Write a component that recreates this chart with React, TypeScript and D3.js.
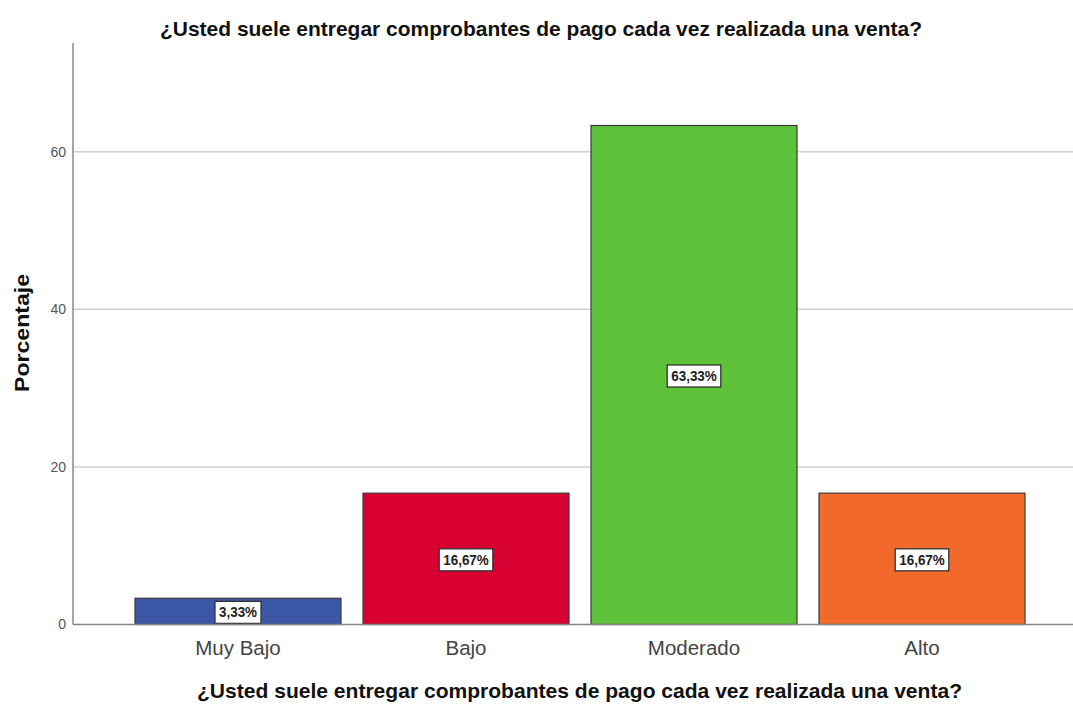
import React from "react";
import * as d3 from "d3";

const categories = ["Muy Bajo", "Bajo", "Moderado", "Alto"];
const values = [3.33, 16.67, 63.33, 16.67];
const valueLabels = ["3,33%", "16,67%", "63,33%", "16,67%"];
const colors = ["#3D57A7", "#D70031", "#5DC13A", "#F26A2B"];
const yTicks = [0, 20, 40, 60];
const title = "¿Usted suele entregar comprobantes de pago cada vez realizada una venta?";
const yTitle = "Porcentaje";

const W = 1073;
const H = 706;
const sans = "'Liberation Sans', Arial, sans-serif";

export default function App() {
  const axisX = 73;
  const y = d3.scaleLinear().domain([0, 73.8]).range([624.5, 43]);
  const x = d3
    .scaleBand<string>()
    .domain(categories)
    .range([124, 1036])
    .paddingInner(22 / 228)
    .paddingOuter(11 / 228);

  return (
    <svg
      width={W}
      height={H}
      style={{ position: "absolute", left: 0, top: 0, display: "block", background: "#fff" }}
    >
      <text
        x={160}
        y={36}
        textLength={762}
        lengthAdjust="spacingAndGlyphs"
        fontFamily={sans}
        fontWeight="bold"
        fontSize={21}
        fill="#111"
      >
        {title}
      </text>
      {yTicks.slice(1).map((t) => (
        <line key={t} x1={axisX} x2={W} y1={y(t)} y2={y(t)} stroke="#cfcfcf" strokeWidth={1.5} />
      ))}
      {yTicks.map((t) => (
        <text
          key={"l" + t}
          x={66}
          y={y(t)}
          dy="0.35em"
          textAnchor="end"
          fontFamily={sans}
          fontSize={14}
          fill="#555"
        >
          {t}
        </text>
      ))}
      {categories.map((c, i) => {
        const x0 = x(c)!;
        const bw = x.bandwidth();
        const y0 = y(values[i]);
        const ymid = (y0 + y(0)) / 2 + 1;
        const cx = x0 + bw / 2;
        const tl = valueLabels[i].length * 7.6;
        const lw = tl + 8;
        return (
          <g key={c}>
            <rect x={x0} y={y0} width={bw} height={y(0) - y0} fill={colors[i]} stroke="#3a3a3a" strokeWidth={1.2} />
            <rect x={cx - lw / 2} y={ymid - 11} width={lw} height={22} fill="#fff" stroke="#333" strokeWidth={1.3} />
            <text
              x={cx - tl / 2}
              y={ymid}
              dy="0.36em"
              textLength={tl}
              lengthAdjust="spacingAndGlyphs"
              fontFamily={sans}
              fontWeight="bold"
              fontSize={14}
              fill="#222"
            >
              {valueLabels[i]}
            </text>
            <text
              x={cx}
              y={648}
              dy="0.36em"
              textAnchor="middle"
              fontFamily={sans}
              fontSize={20.5}
              fill="#444"
            >
              {c}
            </text>
          </g>
        );
      })}
      <line x1={axisX} x2={axisX} y1={43} y2={y(0)} stroke="#888" strokeWidth={1.5} />
      <line x1={axisX} x2={W} y1={y(0)} y2={y(0)} stroke="#888" strokeWidth={1.5} />
      <text
        transform={`translate(29,${333}) rotate(-90)`}
        x={-59}
        textLength={118}
        lengthAdjust="spacingAndGlyphs"
        fontFamily={sans}
        fontWeight="bold"
        fontSize={20}
        fill="#111"
      >
        {yTitle}
      </text>
      <text
        x={197}
        y={698}
        textLength={765}
        lengthAdjust="spacingAndGlyphs"
        fontFamily={sans}
        fontWeight="bold"
        fontSize={21}
        fill="#111"
      >
        {title}
      </text>
    </svg>
  );
}
